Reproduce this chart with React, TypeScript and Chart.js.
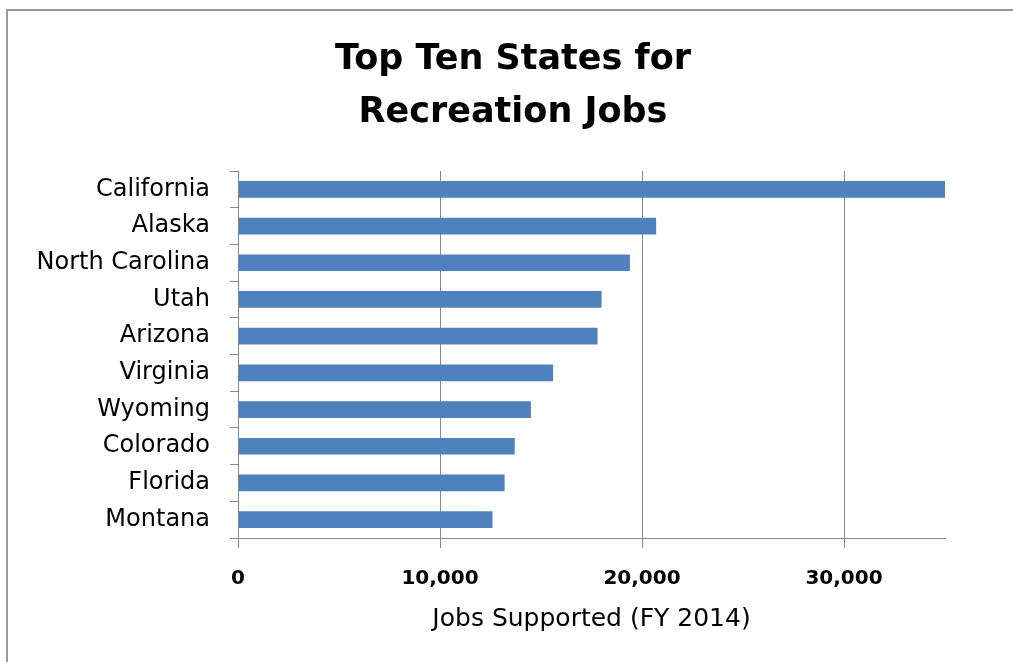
import React, { useEffect, useRef } from 'react';
import { Chart, registerables } from 'chart.js';

Chart.register(...registerables);

const states = [
  'California',
  'Alaska',
  'North Carolina',
  'Utah',
  'Arizona',
  'Virginia',
  'Wyoming',
  'Colorado',
  'Florida',
  'Montana',
];
const jobs = [35000, 20700, 19400, 18000, 17800, 15600, 14500, 13700, 13200, 12600];
const xTickValues = [0, 10000, 20000, 30000];
const xMin = 0;
const xMax = 35000;
const titleLines = ['Top Ten States for', 'Recreation Jobs'];
const xTitle = 'Jobs Supported (FY 2014)';

const unclipLabels = {
  id: 'unclipLabels',
  afterLayout(chart: any) {
    const y = chart.scales.y;
    if (y) y.left = 0;
  },
};

export default function App() {
  const ref = useRef<HTMLCanvasElement | null>(null);

  useEffect(() => {
    if (!ref.current) return;
    Chart.defaults.font.family = "'DejaVu Sans', sans-serif";
    Chart.defaults.color = '#000';
    const chart = new Chart(ref.current, {
      type: 'bar',
      data: {
        labels: states,
        datasets: [
          {
            data: jobs,
            backgroundColor: '#4F81BD',
            borderWidth: 0,
            barPercentage: 0.455,
            categoryPercentage: 1,
          },
        ],
      },
      plugins: [unclipLabels],
      options: {
        indexAxis: 'y',
        responsive: false,
        animation: false,
        layout: { padding: { left: 81, right: 68, top: 0, bottom: 0 } },
        plugins: {
          legend: { display: false },
          tooltip: { enabled: false },
          title: {
            display: true,
            text: titleLines,
            color: '#000',
            font: { size: 35, weight: 'bold', lineHeight: 53 / 35 },
            padding: { top: 33, bottom: 32 },
          },
        },
        scales: {
          x: {
            type: 'linear',
            min: xMin,
            max: xMax,
            afterBuildTicks: (s: any) => {
              s.ticks = xTickValues.map((v) => ({ value: v }));
            },
            afterFit: (s: any) => {
              s.height = 124;
            },
            grid: { color: '#888', lineWidth: 1, drawTicks: true, tickLength: 10 },
            border: { color: '#888', width: 1 },
            ticks: {
              color: '#000',
              font: { size: 20, weight: 'bold' },
              padding: 19,
              maxRotation: 0,
              autoSkip: false,
              callback: (v: any) => Number(v).toLocaleString('en-US'),
            },
            title: {
              display: true,
              text: xTitle,
              color: '#000',
              font: { size: 25 },
              padding: { top: 0, bottom: 28 },
            },
          },
          y: {
            afterFit: (s: any) => {
              s.width = 157;
            },
            grid: { drawOnChartArea: false, color: '#888', tickLength: 8, offset: true },
            border: { color: '#888', width: 1 },
            ticks: { color: '#000', font: { size: 24 }, padding: 20, autoSkip: false },
          },
        },
      },
    });
    return () => chart.destroy();
  }, []);

  return (
    <div style={{ position: 'absolute', left: 0, top: 0, width: 1013, height: 662, background: '#fff', overflow: 'hidden' }}>
      <div
        style={{
          position: 'absolute',
          left: 6,
          top: 9,
          width: 1100,
          height: 700,
          borderLeft: '2px solid #999',
          borderTop: '2px solid #999',
        }}
      />
      <canvas ref={ref} width={1013} height={662} style={{ position: 'absolute', left: 0, top: 0 }} />
    </div>
  );
}
